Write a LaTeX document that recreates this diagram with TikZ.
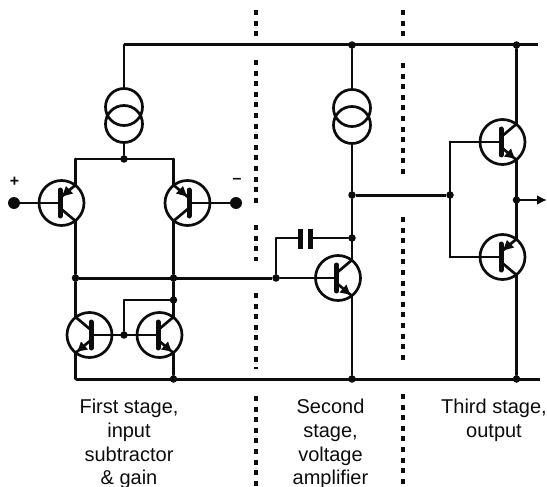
\documentclass[tikz,border=0pt]{standalone}
\usepackage{fontspec}
\setmainfont{Liberation Sans}
\usetikzlibrary{arrows.meta}
\definecolor{ink}{HTML}{0C0C0C}
\tikzset{
  wire/.style={draw=ink,line width=2.7pt,line cap=round,line join=round},
  rail/.style={draw=ink,line width=3pt,line cap=butt},
  trcirc/.style={circle,draw=ink,line width=2.7pt,minimum size=45pt,inner sep=0pt},
  cscirc/.style={circle,draw=ink,line width=2.7pt,minimum size=37pt,inner sep=0pt},
  junction/.style={circle,fill=ink,minimum size=7.5pt,inner sep=0pt},
  terminal/.style={circle,fill=ink,minimum size=12pt,inner sep=0pt},
  barline/.style={draw=ink,line width=5pt,line cap=round},
  platewire/.style={draw=ink,line width=5pt,line cap=butt},
  stagediv/.style={draw=ink,line width=3.2pt,dash pattern=on 5pt off 5.6pt},
  caption/.style={anchor=base,font=\fontsize{20}{20}\selectfont,text=ink,inner sep=0pt},
  sign/.style={font=\bfseries\fontsize{16}{16}\selectfont,text=ink,inner sep=0pt}
}
% name, cx, cy, side (+1 terminals right, -1 terminals left)
\newcommand\trbody[4]{%
  \node[trcirc] (#1) at (#2,#3) {};
  \coordinate (#1-b) at ({#2-#4*1.5},#3);
  \coordinate (#1-t) at ({#2+#4*14},{#3-18});
  \coordinate (#1-u) at ({#2+#4*14},{#3+18});
  \draw[wire] ({#2-#4*1.5},{#3-5}) -- (#1-t);
  \draw[wire] ({#2-#4*1.5},{#3+5}) -- (#1-u);
  \draw[barline] ({#2-#4*1.5},{#3-13}) -- ({#2-#4*1.5},{#3+13});
}
% NPN: head on the lower lead, pointing out of the bar
\newcommand\npnhead[4]{%
  \fill[ink] ({#2+#4*12},{#3+16.5}) -- ({#2+#4*1.5},{#3+14.5}) -- ({#2+#4*8.5},{#3+6.5}) -- cycle;
}
% PNP: head on the upper lead, pointing into the bar
\newcommand\pnphead[4]{%
  \fill[ink] ({#2+#4*0.5},{#3-6.5}) -- ({#2+#4*11.5},{#3-9.5}) -- ({#2+#4*4.5},{#3-17}) -- cycle;
}
\begin{document}
\begin{tikzpicture}[x=1pt,y=-1pt]
\useasboundingbox (0,0) rectangle (547,487);
\clip (0,0) rectangle (547,487);

% stage dividers
\draw[stagediv] (256,10) -- (256,37);
\draw[stagediv] (256,60) -- (256,208);
\draw[stagediv] (256,225) -- (256,261);
\draw[stagediv] (256,293) -- (256,369);
\draw[stagediv] (256,396) -- (256,487);
\draw[stagediv] (403,10) -- (403,37);
\draw[stagediv] (403,63) -- (403,179);
\draw[stagediv] (403,217) -- (403,364);
\draw[stagediv] (403,394) -- (403,487);

% transistors
\trbody{Ta}{61.5}{203}{1}\pnphead{Ta}{61.5}{203}{1}
\trbody{Tb}{187.5}{203}{-1}\pnphead{Tb}{187.5}{203}{-1}
\trbody{Tc}{89.5}{335}{-1}\npnhead{Tc}{89.5}{335}{-1}
\trbody{Td}{159.5}{335}{1}\npnhead{Td}{159.5}{335}{1}
\trbody{Te}{338}{278}{1}\npnhead{Te}{338}{278}{1}
\trbody{Tf}{502.5}{142}{1}\npnhead{Tf}{502.5}{142}{1}
\trbody{Tg}{502.5}{257}{1}\pnphead{Tg}{502.5}{257}{1}

% current sources
\node[cscirc] (csAu) at (124,107) {};
\node[cscirc] (csAl) at (124,124) {};
\node[cscirc] (csBu) at (352,108) {};
\node[cscirc] (csBl) at (352,125) {};

% rail and corner points
\coordinate (topL) at (124,45);
\coordinate (topR) at (538,45);
\coordinate (botL) at (75.5,379);
\coordinate (botR) at (540,379);
\coordinate (tailL) at (75.5,159);
\coordinate (tailR) at (173.5,159);
\coordinate (mirrorUp) at (124,300);
\coordinate (capBend) at (276,238);
\coordinate (fbTop) at (450,142);
\coordinate (fbBot) at (450,257);
\coordinate (out) at (547,200);
\coordinate (capL) at (300,238);
\coordinate (capR) at (310,238);

% junctions
\node[junction] (jTail) at (124,159) {};
\node[junction] (jLoadL) at (75.5,278) {};
\node[junction] (jLoadR) at (173.5,278) {};
\node[junction] (jMirrorC) at (173.5,300) {};
\node[junction] (jMirrorB) at (124,335) {};
\node[junction] (jBotM) at (173.5,379) {};
\node[junction] (jBase) at (276,278) {};
\node[junction] (jTopB) at (352,45) {};
\node[junction] (jTopF) at (516.5,45) {};
\node[junction] (jCap) at (352,238) {};
\node[junction] (jVas) at (352,195) {};
\node[junction] (jDrv) at (450,195) {};
\node[junction] (jOut) at (516.5,200) {};
\node[junction] (jBotB) at (352,379) {};
\node[junction] (jBotF) at (516.5,379) {};

% inputs
\node[terminal] (inP) at (14,203) {};
\node[terminal] (inM) at (236,203) {};
\node[sign] (lblP) at (14.5,182) {+};
\node[sign] (lblM) at (237,181) {–};

% rails
\draw[rail] (topL) -- (topR);
\draw[rail] (botL) -- (botR);

% first stage
\draw[wire] (topL) -- (csAu.north);
\draw[wire] (csAl.south) -- (jTail);
\draw[wire] (tailL) -- (tailR);
\draw[wire] (tailL) -- (Ta-t);
\draw[wire] (tailR) -- (Tb-t);
\draw[wire] (inP) -- (Ta-b);
\draw[wire] (inM) -- (Tb-b);
\draw[wire] (Ta-u) -- (jLoadL);
\draw[wire] (Tb-u) -- (jLoadR);
\draw[wire] (jLoadL) -- (Tc-t);
\draw[wire] (jLoadR) -- (Td-t);
\draw[wire] (Tc-u) -- (botL);
\draw[wire] (Td-u) -- (jBotM);
\draw[wire] (Tc-b) -- (Td-b);
\draw[wire] (jMirrorB) -- (mirrorUp) -- (jMirrorC);

% second stage
\draw[rail] (jLoadL) -- (jBase);
\draw[wire] (jBase) -- (Te-b);
\draw[wire] (jBase) -- (capBend) -- (capL);
\draw[wire] (capR) -- (jCap);
\draw[platewire] (300,228.5) -- (300,249);
\draw[platewire] (310,228.5) -- (310,249);
\draw[wire] (jTopB) -- (csBu.north);
\draw[wire] (csBl.south) -- (jVas);
\draw[wire] (jVas) -- (Te-t);
\draw[wire] (Te-u) -- (jBotB);

% third stage
\draw[rail] (jVas) -- (jDrv);
\draw[wire] (fbTop) -- (fbBot);
\draw[wire] (fbTop) -- (Tf-b);
\draw[wire] (fbBot) -- (Tg-b);
\draw[wire] (jTopF) -- (Tf-t);
\draw[wire] (Tf-u) -- (Tg-t);
\draw[wire] (Tg-u) -- (jBotF);
\draw[draw=ink,line width=2.7pt,-{Latex[length=10pt,width=10pt]}] (jOut) -- (out);

% captions
\node[caption] (c1a) at (129,413.5) {First stage,};
\node[caption] (c1b) at (129,437.3) {input};
\node[caption] (c1c) at (129,461) {subtractor};
\node[caption] (c1d) at (129,484.8) {\&\ gain};
\node[caption] (c2a) at (330.5,413.5) {Second};
\node[caption] (c2b) at (330.5,437.3) {stage,};
\node[caption] (c2c) at (330.5,461) {voltage};
\node[caption] (c2d) at (330.5,484.8) {amplifier};
\node[caption] (c3a) at (494,413.5) {Third stage,};
\node[caption] (c3b) at (494,437.3) {output};
\end{tikzpicture}
\end{document}
